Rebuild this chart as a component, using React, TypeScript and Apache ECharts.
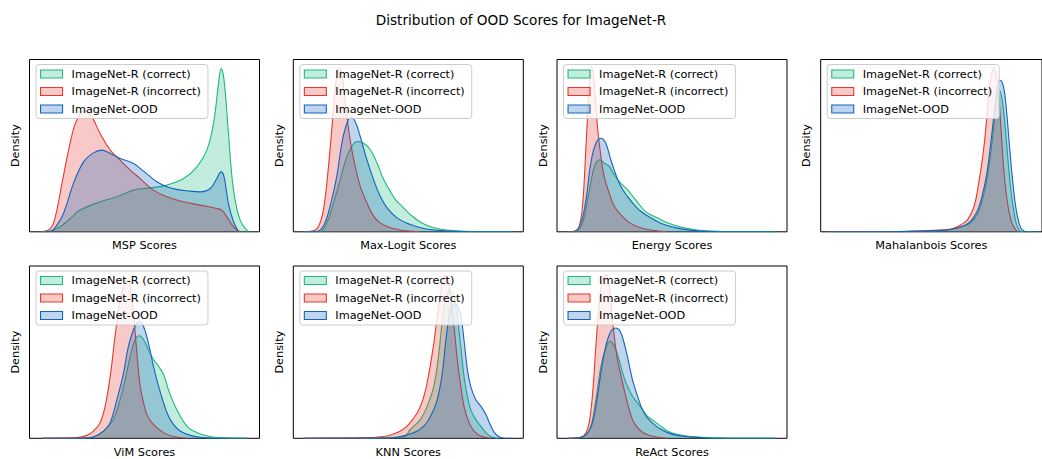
import React, { useEffect, useRef } from "react";
import * as echarts from "echarts";

const FONT = "DejaVu Sans";

const seriesNames = ["ImageNet-R (correct)", "ImageNet-R (incorrect)", "ImageNet-OOD"];
const lineColors = ["#1eb97d", "#e4392b", "#1464be"];
const fillColors = ["rgba(30,185,125,0.27)", "rgba(228,57,43,0.27)", "rgba(20,100,190,0.27)"];

const panelTitles = [
  "MSP Scores",
  "Max-Logit Scores",
  "Energy Scores",
  "Mahalanbois Scores",
  "ViM Scores",
  "KNN Scores",
  "ReAct Scores",
];

// ---- MSP ----
const mspCorrect = [[4.6,0],[9,0.5],[13.3,2.9],[17.7,7.7],[22,12.6],[30.7,17.4],[38,20.3],[45.2,24.2],[52.5,25.5],[59.7,27.1],[67,30.9],[72.8,37.7],[77.1,47.4],[80,62.9],[82.2,86.1],[83.3,94.8],[84.6,88],[86.5,57],[88.7,24.2],[91.6,6.8],[95.2,0]];
const mspIncorrect = [[4.6,0],[9,1.9],[11.2,8.7],[14.1,28],[17,47.4],[19.9,62.9],[22.8,69.6],[24.2,70.2],[27.1,66.7],[30.7,57.1],[35.1,47.4],[39.4,41.6],[43.8,35.8],[48.1,30.9],[53.9,24.2],[59.7,20.3],[67,17.4],[74.2,15.5],[81.4,13.5],[83.6,12.6],[85.8,8.7],[88.7,2.9],[91.6,0]];
const mspOod = [[4.6,0],[9,0.3],[11.9,3.9],[14.8,10.6],[19.1,28],[23.5,40.6],[27.8,45.8],[31.4,47.4],[35.1,45.5],[39.4,42.6],[45.2,39.7],[48.1,36.8],[51.7,32.9],[55.4,29],[59.7,26.1],[64.1,24.6],[68.4,23.8],[74.2,23.2],[78.6,25.1],[81.4,30.9],[83.3,34.8],[84.6,31.9],[86.5,16.4],[88.7,5.8],[90.9,0]];

// ---- Max-Logit ----
const maxLogitCorrect = [[4.4,0],[11.6,0.2],[14.6,5.2],[17.5,16.8],[20.4,30.3],[23.3,43.7],[26.2,51.1],[27.9,52.4],[30.6,51.4],[33.5,47.6],[36.4,39.9],[39.3,30.3],[42.2,23.5],[44.4,18.7],[47.3,14.8],[50.9,10],[55.3,5.6],[61.1,2.3],[68.4,0.8],[80.1,0],[95,0]];
const maxLogitIncorrect = [[4.4,0],[8.7,0.6],[10.9,2.9],[13.1,12.9],[15.3,38],[17.2,66.9],[18.6,88],[19.9,95.4],[21.3,90],[23,70.7],[24.7,53.4],[26.9,38],[29.1,26.4],[32,16.8],[34.9,9.1],[37.8,5.2],[42.2,2.3],[48,0.8],[55.3,0]];
const maxLogitOod = [[4.4,0],[10.2,0.2],[13.1,3.3],[16,14.8],[18.9,32.2],[21.1,51.4],[23.3,63],[25,66.3],[26.9,64],[29.1,55.3],[32,41.8],[34.9,30.3],[37.8,20.6],[40.8,13.9],[45.1,8.1],[50.9,4.2],[56.8,1.9],[65.5,0.6],[77.1,0],[95,0]];

// ---- Energy ----
const energyCorrect = [[4.6,0],[8.2,0.2],[11.1,5.2],[13.3,18.7],[15.5,34.1],[16.9,39.9],[18.6,41.8],[20.5,39.9],[22.7,38],[24.9,33.1],[27.7,28.3],[30.6,24.5],[33.5,19.7],[36.4,14.8],[39.3,11],[43.6,8.1],[48,5.2],[53.8,2.7],[61,1],[71.1,0.2],[82.7,0],[95,0]];
const energyIncorrect = [[4.6,0],[8.2,0.6],[9.7,3.3],[11.1,14.8],[12.6,49.5],[14,84.2],[15,95.8],[16.2,86.1],[17.6,61.1],[19.1,43.7],[20.5,32.2],[22.7,22.5],[24.9,14.8],[27.7,10],[30.6,6.2],[35,2.9],[40.8,1],[48,0]];
const energyOod = [[4.6,0],[7.5,0.2],[10.4,5.2],[12.6,18.7],[14.7,39.9],[16.9,51.4],[19.1,54.3],[21.2,51.4],[23.4,41.8],[25.6,33.1],[27.7,26.4],[30.6,20.6],[33.5,15.8],[36.4,11.9],[40.8,8.1],[46.5,4.2],[53.8,1.7],[62.4,0.4],[74,0],[95,0]];

// ---- Mahalanobis ----
const mahaCorrect = [[4.1,0],[34.5,0.1],[56.2,0.8],[63.5,2.9],[67.8,5.2],[70.7,10],[72.9,17.7],[75.1,30.3],[77.2,49.5],[78.7,66.9],[79.7,79.4],[80.6,82.3],[82,76.5],[83.2,63],[84.5,43.7],[85.9,24.5],[87.4,11],[88.8,3.3],[91,0],[96,0]];
const mahaIncorrect = [[4.1,0],[34.5,0.1],[53.3,1],[59.1,1.6],[63.5,4.2],[66.4,7.1],[69.3,14.8],[71.4,28.3],[73.6,47.6],[75.1,66.9],[76.5,86.1],[78.3,95.4],[79.4,90],[80.6,76.5],[81.6,57.2],[82.6,38],[83.8,22.5],[85.2,11],[86.7,4.2],[88.8,0]];
const mahaOod = [[4.1,0],[34.5,0.1],[54.8,0.8],[60.6,1.9],[64.9,3.7],[67.8,6.2],[70.7,11.9],[72.9,20.6],[75.1,34.1],[77.2,55.3],[78.7,72.6],[80.1,86.1],[81.2,88],[82.6,84.2],[83.8,72.6],[85.2,51.4],[86.7,30.3],[88.1,14.8],[89.6,5.2],[91,1.3],[93.2,0],[97,0]];

// ---- ViM ----
const vimCorrect = [[5.4,0],[23.5,0.2],[27.8,0.8],[32.2,4.2],[36.5,11],[39.4,22.5],[41.6,34.1],[43.8,47.6],[45.9,57.2],[47.8,59.5],[49.6,57.2],[51.7,51.4],[53.9,45.7],[56.1,41.8],[58.3,37],[60.4,28.3],[62.6,20.6],[65.5,12.9],[68.4,7.1],[71.3,4.2],[75.7,1.9],[81.4,0.4],[94.5,0]];
const vimIncorrect = [[5.4,0],[16.2,0.2],[20.6,0.4],[24.9,1.7],[27.8,4.2],[30.7,9.1],[32.9,18.7],[35.1,36],[37.2,59.2],[39.4,80.3],[41.2,89],[42.8,91.9],[43.8,88],[45.2,72.6],[46.7,49.5],[48.1,30.3],[49.6,20.6],[51,13.9],[53.2,9.1],[55.4,6.2],[58.3,3.3],[62.6,1],[68.4,0]];
const vimOod = [[5.4,0],[23.5,0.1],[27.8,0.8],[32.2,4.2],[35.1,9.1],[38,22.5],[40.9,38],[43,53.4],[45.2,63],[46.7,66.9],[47.8,67.8],[49.6,64.9],[51.7,55.3],[53.9,41.8],[56.1,30.3],[58.3,20.6],[60.4,12.9],[62.6,8.1],[65.5,4.2],[69.9,1.7],[75.7,0.4],[81.4,0],[94.5,0]];

// ---- KNN ----
const knnCorrect = [[4.4,0],[33.5,0.1],[48,0.8],[50.9,5.2],[55.3,11],[58.2,18.7],[61.1,30.3],[63.3,49.5],[64.8,68.8],[66.2,80.3],[67.7,85.7],[68.7,86.1],[69.9,82.3],[71.3,70.7],[72.8,53.4],[74.2,36],[75.7,24.5],[77.1,16.8],[79.3,11],[81.5,7.1],[83.7,3.3],[85.9,1],[88.8,0]];
const knnIncorrect = [[4.4,0],[26.2,0.2],[33.5,0.4],[40.8,1.3],[45.1,3.3],[49.5,7.1],[53.9,14.8],[56.8,24.5],[59,38],[61.1,55.3],[62.6,70.7],[64,84.2],[65.5,92.9],[66.2,94.8],[67.2,91.9],[68.4,82.3],[69.9,64.9],[71.3,45.7],[72.8,30.3],[74.2,18.7],[76.4,9.1],[78.6,4.2],[81.5,1.3],[85.9,0]];
const knnOod = [[4.4,0],[40.8,0.2],[52.4,3.3],[56.8,7.1],[59.7,12.9],[62.6,22.5],[64.8,38],[66.2,55.3],[67.7,70.7],[69.1,77.5],[70.3,78],[71.6,76.5],[73.1,68.8],[74.2,57.2],[75.7,39.9],[77.1,30.3],[79.3,22.5],[81.5,18.7],[83.7,13.9],[85.9,7.1],[88.1,2.3],[90.3,0.4],[92.4,0],[95,0]];

// ---- ReAct ----
const reactCorrect = [[4.6,0],[7.5,0.1],[11.8,1.3],[14.7,7.1],[16.9,22.5],[19.1,41.8],[21.2,52.4],[23.1,56.3],[24.9,53.4],[27,45.7],[28.5,38],[30.6,30.3],[32.8,24.5],[35,20.6],[37.1,16.8],[39.3,12.9],[42.2,10],[45.1,7.1],[48,4.2],[52.3,2.3],[58.1,1],[65.3,0.4],[82.6,0],[95,0]];
const reactIncorrect = [[4.6,0],[10.4,0.4],[12.6,3.3],[14,9.1],[15.5,26.4],[16.9,53.4],[18.4,78.4],[19.8,91.9],[21.4,95],[22.7,88],[23.7,74.6],[24.9,59.2],[26.3,45.7],[28.5,32.2],[30.6,20.6],[32.8,11],[35,6.2],[37.9,2.9],[42.2,1],[48,0]];
const reactOod = [[4.6,0],[7.5,0.1],[11.8,1.3],[14.7,6.2],[16.9,18.7],[19.1,38],[21.2,53.4],[23.4,62],[25.6,64],[27.5,62],[29.2,55.3],[30.9,45.7],[32.8,34.1],[35,24.5],[37.1,16.8],[39.3,11.9],[42.2,8.1],[45.1,5.2],[48,3.3],[52.3,1.7],[58.1,0.8],[65.3,0.2],[76.9,0],[95,0]];

const panelData = [
  [mspCorrect, mspIncorrect, mspOod],
  [maxLogitCorrect, maxLogitIncorrect, maxLogitOod],
  [energyCorrect, energyIncorrect, energyOod],
  [mahaCorrect, mahaIncorrect, mahaOod],
  [vimCorrect, vimIncorrect, vimOod],
  [knnCorrect, knnIncorrect, knnOod],
  [reactCorrect, reactIncorrect, reactOod],
];

const colLefts = [29.5, 293.3, 557, 820.7];
const rowTops = [59.5, 266];
const PW = 230;
const PH = 172.3;

export default function App() {
  const ref = useRef<HTMLDivElement>(null);
  useEffect(() => {
    document.body.style.margin = "0";
    if (!ref.current) return;
    const chart = echarts.init(ref.current, null, { renderer: "svg" });
    const grids: any[] = [];
    const xAxes: any[] = [];
    const yAxes: any[] = [];
    const series: any[] = [];
    const legends: any[] = [];
    panelTitles.forEach((t, i) => {
      const left = colLefts[i % 4];
      const top = rowTops[Math.floor(i / 4)];
      grids.push({
        left, top, width: PW, height: PH,
        show: true, borderColor: "#000", borderWidth: 1, backgroundColor: "transparent",
        containLabel: false,
      });
      xAxes.push({
        type: "value", gridIndex: i, min: 0, max: 100,
        name: t, nameLocation: "middle", nameGap: 8.5,
        nameTextStyle: { fontFamily: FONT, fontSize: 11.3, color: "#000" },
        axisLine: { show: false }, axisTick: { show: false }, axisLabel: { show: false },
        splitLine: { show: false },
      });
      yAxes.push({
        type: "value", gridIndex: i, min: 0, max: 100,
        name: "Density", nameLocation: "middle", nameGap: 8.5,
        nameTextStyle: { fontFamily: FONT, fontSize: 11.3, color: "#000" },
        axisLine: { show: false }, axisTick: { show: false }, axisLabel: { show: false },
        splitLine: { show: false },
      });
      panelData[i].forEach((d, k) => {
        series.push({
          type: "line", name: seriesNames[k], xAxisIndex: i, yAxisIndex: i,
          data: d, smooth: 0.4, symbol: "none", showSymbol: false,
          lineStyle: { color: lineColors[k], width: 1.1 },
          itemStyle: { color: lineColors[k] },
          areaStyle: { color: fillColors[k], opacity: 1 },
          z: 2 + k,
          emphasis: { disabled: true },
        });
      });
      legends.push({
        orient: "vertical", left: left + 6.5, top: top + 5,
        padding: [4, 7, 4, 4], itemGap: 6.5, itemWidth: 22, itemHeight: 8,
        icon: "rect", selectedMode: false,
        backgroundColor: "rgba(255,255,255,0.8)", borderColor: "#cccccc", borderWidth: 1, borderRadius: 3,
        textStyle: { fontFamily: FONT, fontSize: 11.3, color: "#000", padding: [0, 0, 0, 4] },
        data: seriesNames.map((n, k) => ({
          name: n,
          itemStyle: { color: fillColors[k], borderColor: lineColors[k], borderWidth: 1.1 },
        })),
        z: 10,
      });
    });
    chart.setOption({
      animation: false,
      backgroundColor: "#fff",
      title: {
        text: "Distribution of OOD Scores for ImageNet-R", left: "center", top: 8,
        textStyle: { fontFamily: FONT, fontSize: 13.6, fontWeight: "normal", color: "#000" },
      },
      grid: grids, xAxis: xAxes, yAxis: yAxes, series, legend: legends,
    });
    return () => chart.dispose();
  }, []);
  return <div ref={ref} style={{ width: 1042, height: 459 }} />;
}
